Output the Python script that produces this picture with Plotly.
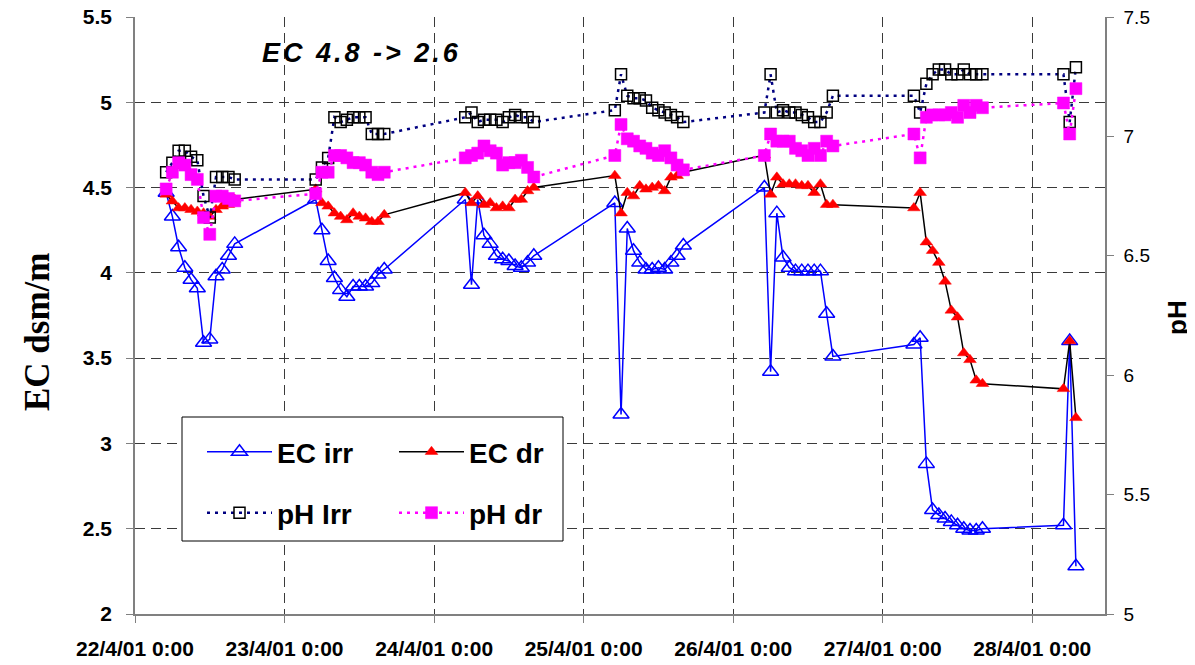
import plotly.graph_objects as go

# ---------------- data ----------------
sample_days = ["2001-04-22", "2001-04-23", "2001-04-24", "2001-04-25",
               "2001-04-26", "2001-04-27", "2001-04-28"]
day_hours = [
    ["05", "06", "07", "08", "09", "10", "11", "12", "13", "14", "15", "16"],
    ["05", "06", "07", "08", "09", "10", "11", "12", "13", "14", "15", "16"],
    ["05", "06", "07", "08", "09", "10", "11", "12", "13", "14", "15", "16"],
    ["05", "06", "07", "08", "09", "10", "11", "12", "13", "14", "15", "16"],
    ["05", "06", "07", "08", "09", "10", "11", "12", "13", "14", "15", "16"],
    ["05", "06", "07", "08", "09", "10", "11", "12", "13", "14", "15", "16"],
    ["05", "06", "07"],
]
times = [f"{d} {h}:00" for d, hs in zip(sample_days, day_hours) for h in hs]

ec_irr = [4.47, 4.33, 4.15, 4.03, 3.96, 3.91, 3.59, 3.61, 3.98, 4.02, 4.10, 4.17,
          4.43, 4.25, 4.07, 3.97, 3.90, 3.86, 3.92, 3.92, 3.92, 3.94, 3.99, 4.02,
          4.43, 3.93, 4.43, 4.22, 4.17, 4.10, 4.08, 4.07, 4.04, 4.03, 4.06, 4.10,
          4.41, 3.17, 4.26, 4.13, 4.06, 4.02, 4.02, 4.03, 4.02, 4.06, 4.10, 4.16,
          4.50, 3.42, 4.35, 4.09, 4.03, 4.01, 4.01, 4.01, 4.01, 4.01, 3.76, 3.51,
          3.58, 3.62, 2.88, 2.61, 2.58, 2.56, 2.54, 2.52, 2.50, 2.49, 2.49, 2.50,
          2.52, 3.60, 2.28]

ec_dr = [4.46, 4.42, 4.38, 4.38, 4.37, 4.36, 4.35, 4.33, 4.37, 4.39, 4.40, 4.43,
         4.49, 4.41, 4.39, 4.35, 4.33, 4.31, 4.35, 4.33, 4.32, 4.30, 4.30, 4.34,
         4.47, 4.41, 4.45, 4.40, 4.41, 4.38, 4.39, 4.38, 4.43, 4.43, 4.48, 4.50,
         4.57, 4.35, 4.47, 4.45, 4.51, 4.49, 4.50, 4.51, 4.48, 4.56, 4.57, 4.59,
         4.69, 4.46, 4.56, 4.52, 4.52, 4.52, 4.51, 4.51, 4.47, 4.52, 4.40, 4.40,
         4.38, 4.47, 4.18, 4.13, 4.06, 3.95, 3.78, 3.74, 3.53, 3.49, 3.37, 3.35,
         3.32, 3.60, 3.15]

ph_irr = [6.85, 6.89, 6.94, 6.94, 6.915, 6.90, 6.75, 6.66, 6.83, 6.83, 6.83, 6.82,
          6.82, 6.87, 6.91, 7.08, 7.06, 7.07, 7.08, 7.08, 7.08, 7.01, 7.01, 7.01,
          7.08, 7.10, 7.06, 7.07, 7.07, 7.07, 7.06, 7.08, 7.09, 7.08, 7.08, 7.06,
          7.11, 7.26, 7.17, 7.16, 7.16, 7.15, 7.12, 7.11, 7.10, 7.09, 7.08, 7.06,
          7.10, 7.26, 7.10, 7.11, 7.10, 7.10, 7.09, 7.08, 7.06, 7.06, 7.10, 7.17,
          7.17, 7.10, 7.22, 7.26, 7.28, 7.28, 7.26, 7.26, 7.28, 7.26, 7.26, 7.26,
          7.26, 7.06, 7.29]

ph_dr = [6.78, 6.85, 6.89, 6.88, 6.84, 6.82, 6.66, 6.59, 6.75, 6.75, 6.74, 6.73,
         6.76, 6.85, 6.85, 6.92, 6.92, 6.91, 6.89, 6.89, 6.88, 6.85, 6.84, 6.85,
         6.91, 6.92, 6.93, 6.96, 6.94, 6.93, 6.88, 6.89, 6.89, 6.90, 6.87, 6.83,
         6.92, 7.05, 6.99, 6.98, 6.96, 6.95, 6.93, 6.92, 6.94, 6.91, 6.88, 6.86,
         6.92, 7.01, 6.98, 6.98, 6.98, 6.95, 6.94, 6.92, 6.95, 6.92, 6.98, 6.96,
         7.01, 6.91, 7.08, 7.09, 7.09, 7.09, 7.10, 7.08, 7.13, 7.10, 7.13, 7.12,
         7.14, 7.01, 7.20]

x_tickvals = ["2001-04-22", "2001-04-23", "2001-04-24", "2001-04-25",
              "2001-04-26", "2001-04-27", "2001-04-28"]
x_ticktext = ["22/4/01 0:00", "23/4/01 0:00", "24/4/01 0:00", "25/4/01 0:00",
              "26/4/01 0:00", "27/4/01 0:00", "28/4/01 0:00"]
ec_ticks = [2, 2.5, 3, 3.5, 4, 4.5, 5, 5.5]
ec_ticktext = ["2", "2.5", "3", "3.5", "4", "4.5", "5", "5.5"]
ph_ticks = [5, 5.5, 6, 6.5, 7, 7.5]
ph_ticktext = ["5", "5.5", "6", "6.5", "7", "7.5"]

# ---------------- figure ----------------
SANS = "Liberation Sans, Arial, sans-serif"
SERIF = "Liberation Serif, Times New Roman, serif"

# the page body adds an 8px offset; the figure is sized to compensate
PAGE_OFF = 8

fig = go.Figure()

fig.add_trace(go.Scatter(
    x=times, y=ec_irr, name="EC irr", mode="lines+markers",
    line=dict(color="#0000FF", width=1.5),
    marker=dict(symbol="triangle-up-open", size=14, color="#0000FF",
                line=dict(color="#0000FF", width=1.5)),
    legend="legend"))
fig.add_trace(go.Scatter(
    x=times, y=ec_dr, name="EC dr", mode="lines+markers",
    line=dict(color="#000000", width=1.5),
    marker=dict(symbol="triangle-up", size=11, color="#FF0000",
                line=dict(color="#FF0000", width=0.5)),
    legend="legend"))
fig.add_trace(go.Scatter(
    x=times, y=ph_irr, name="pH Irr", mode="lines+markers", yaxis="y2",
    line=dict(color="#000080", width=2.5, dash="3px,5px"),
    marker=dict(symbol="square-open", size=11, color="#000000",
                line=dict(color="#000000", width=1.5)),
    legend="legend2"))
fig.add_trace(go.Scatter(
    x=times, y=ph_dr, name="pH dr", mode="lines+markers", yaxis="y2",
    line=dict(color="#FF00FF", width=2.5, dash="3px,5px"),
    marker=dict(symbol="square", size=12, color="#FF00FF",
                line=dict(color="#FF00FF", width=0.5)),
    legend="legend2"))

grid_dash = "10px,6px"
legend_common = dict(
    orientation="h", xanchor="left", yanchor="middle",
    bgcolor="rgba(0,0,0,0)", borderwidth=0,
    font=dict(family=SANS, size=28, color="black", weight="bold"),
    itemwidth=65, entrywidth=112, entrywidthmode="pixels",
    tracegroupgap=0, itemclick=False,
)

fig.update_layout(
    width=1195 - PAGE_OFF, height=665 - PAGE_OFF,
    margin=dict(l=135 - PAGE_OFF, r=90, t=17 - PAGE_OFF, b=51, autoexpand=False),
    paper_bgcolor="white", plot_bgcolor="white",
    showlegend=True,
    font=dict(family=SANS, color="black"),
    xaxis=dict(
        type="date", automargin=False,
        range=["2001-04-22 00:00", "2001-04-28 11:40"],
        tickvals=x_tickvals, ticktext=x_ticktext,
        tickfont=dict(family=SANS, size=21, color="black", weight="bold"),
        showgrid=True, gridcolor="#3a3a3a", gridwidth=1, griddash=grid_dash,
        showline=True, linecolor="#808080", linewidth=1.5,
        ticks="outside", ticklen=7, tickcolor="#808080", tickwidth=1,
        ticklabelstandoff=8, ticklabeloverflow="allow",
        zeroline=False,
    ),
    yaxis=dict(
        automargin=False,
        range=[2, 5.5], tickvals=ec_ticks, ticktext=ec_ticktext,
        tickfont=dict(family=SANS, size=21, color="black", weight="bold"),
        showgrid=True, gridcolor="#3a3a3a", gridwidth=1, griddash=grid_dash,
        showline=True, linecolor="#808080", linewidth=1.5,
        ticks="outside", ticklen=7, tickcolor="#808080", tickwidth=1,
        ticklabelstandoff=10, ticklabeloverflow="allow",
        zeroline=False,
    ),
    yaxis2=dict(
        automargin=False,
        range=[5, 7.5], tickvals=ph_ticks, ticktext=ph_ticktext,
        overlaying="y", side="right",
        tickfont=dict(family=SANS, size=19, color="black"),
        showgrid=False,
        showline=True, linecolor="#808080", linewidth=1.5,
        ticks="outside", ticklen=7, tickcolor="#808080", tickwidth=1,
        ticklabelstandoff=6, ticklabeloverflow="allow",
        zeroline=False,
    ),
    legend=dict(x=(202 - 135) / 970, y=(614 - 452) / 597, **legend_common),
    legend2=dict(x=(202 - 135) / 970, y=(614 - 513) / 597, **legend_common),
    shapes=[dict(
        type="rect", xref="paper", yref="paper", layer="above",
        x0=(182 - 135) / 970, x1=(563 - 135) / 970,
        y0=(614 - 541) / 597, y1=(614 - 417) / 597,
        fillcolor="white", line=dict(color="black", width=1),
    )],
    annotations=[
        dict(text="EC dsm/m", xref="paper", yref="paper",
             x=0, y=(614 - 332) / 597, xshift=-98,
             xanchor="center", yanchor="middle", textangle=-90, showarrow=False,
             font=dict(family=SERIF, size=35, color="black", weight="bold")),
        dict(text="pH", xref="paper", yref="paper",
             x=1, y=(614 - 318) / 597, xshift=72,
             xanchor="center", yanchor="middle", textangle=-90, showarrow=False,
             font=dict(family=SANS, size=26, color="black", weight="bold")),
        dict(text='<span style="letter-spacing:3px">EC 4.8 -&gt; 2.6</span>',
             xref="paper", yref="paper",
             x=(361 - 135) / 970, y=(614 - 53) / 597,
             xanchor="center", yanchor="middle", showarrow=False,
             font=dict(family=SANS, size=27, color="black", weight="bold",
                       style="italic")),
    ],
)

fig.write_html("out.html")
